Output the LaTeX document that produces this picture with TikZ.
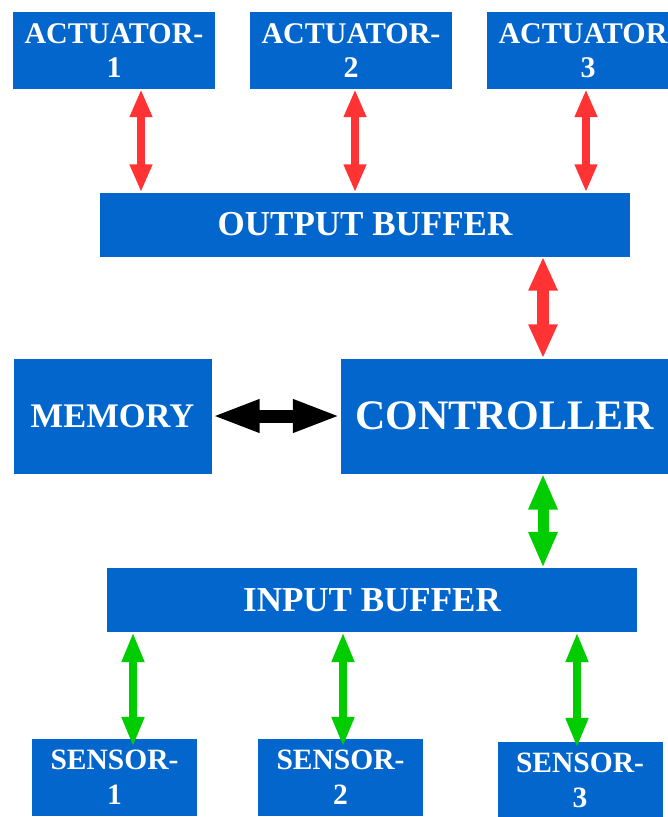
\documentclass[tikz,border=0pt]{standalone}
\usepackage{fontspec}
\setmainfont{Liberation Serif}
\usetikzlibrary{arrows.meta}
\definecolor{boxblue}{RGB}{2,102,204}
\definecolor{arrred}{RGB}{255,51,51}
\definecolor{arrgreen}{RGB}{0,204,0}
\tikzset{
  blk/.style={fill=boxblue, draw=none, inner sep=0pt, text=white, align=center},
  actfont/.style={font=\fontsize{30}{34}\selectfont\bfseries},
  senfont/.style={font=\fontsize{29.5}{35}\selectfont\bfseries},
  bigfont/.style={font=\fontsize{35}{40}\selectfont\bfseries},
  redthin/.style={draw=arrred, line width=8pt,
    {Triangle[length=28pt,width=21pt]}-{Triangle[length=28pt,width=21pt]}},
  redthick/.style={draw=arrred, line width=12pt,
    {Triangle[length=34pt,width=27pt]}-{Triangle[length=34pt,width=27pt]}},
  greenthin/.style={draw=arrgreen, line width=8pt,
    {Triangle[length=30pt,width=21pt]}-{Triangle[length=30pt,width=21pt]}},
  greenthick/.style={draw=arrgreen, line width=11pt,
    {Triangle[length=36pt,width=27pt]}-{Triangle[length=36pt,width=27pt]}},
  blackarr/.style={draw=black, line width=13pt,
    {Triangle[length=48pt,width=30pt]}-{Triangle[length=48pt,width=30pt]}},
}
\begin{document}
\begin{tikzpicture}[x=1pt,y=-1pt]
\useasboundingbox (0,0) rectangle (668,817);
\begin{scope}
\clip (0,0) rectangle (668,817);
% actuators
\node[blk,actfont,minimum width=202pt,minimum height=77pt] (act1) at (114,50.5) {ACTUATOR-\\1};
\node[blk,actfont,minimum width=202pt,minimum height=77pt] (act2) at (351,50.5) {ACTUATOR-\\2};
\node[blk,actfont,minimum width=202pt,minimum height=77pt] (act3) at (588,50.5) {ACTUATOR-\\3};
% output buffer
\node[blk,bigfont,minimum width=530pt,minimum height=64pt] (outbuf) at (365,224.5) {OUTPUT BUFFER};
% memory and controller
\node[blk,font=\fontsize{34.5}{40}\selectfont\bfseries,minimum width=198pt,minimum height=115pt] (mem) at (112.5,416) {MEMORY};
\node[blk,font=\fontsize{42}{48}\selectfont\bfseries,minimum width=327pt,minimum height=115pt] (ctrl) at (504.5,416) {CONTROLLER};
% input buffer
\node[blk,bigfont,minimum width=530pt,minimum height=64pt] (inbuf) at (372,600) {INPUT BUFFER};
% sensors
\node[blk,senfont,minimum width=165pt,minimum height=77pt] (sen1) at (114.5,777.5) {SENSOR-\\1};
\node[blk,senfont,minimum width=165pt,minimum height=77pt] (sen2) at (340.5,777.5) {SENSOR-\\2};
\node[blk,senfont,minimum width=165pt,minimum height=77pt] (sen3) at (580,780.5) {SENSOR-\\3};
% connectors
\draw[redthin] ([xshift=27pt]act1.south) -- ([xshift=27pt]act1.south |- outbuf.north);
\draw[redthin] ([xshift=4pt]act2.south) -- ([xshift=4pt]act2.south |- outbuf.north);
\draw[redthin] ([xshift=-2pt]act3.south) -- ([xshift=-2pt]act3.south |- outbuf.north);
\draw[redthick] ([xshift=38.5pt]ctrl.north |- outbuf.south) -- ([xshift=38.5pt]ctrl.north);
\draw[blackarr] (mem.east) -- (ctrl.west);
\draw[greenthick] ([xshift=38.5pt]ctrl.south) -- ([xshift=38.5pt]ctrl.south |- inbuf.north);
\draw[greenthin] ([xshift=18.5pt]sen1.north |- inbuf.south) -- ([xshift=18.5pt,yshift=-8pt]sen1.north);
\draw[greenthin] ([xshift=2.5pt]sen2.north |- inbuf.south) -- ([xshift=2.5pt,yshift=-8pt]sen2.north);
\draw[greenthin] ([xshift=-3pt]sen3.north |- inbuf.south) -- ([xshift=-3pt,yshift=-6pt]sen3.north);
\end{scope}
\end{tikzpicture}
\end{document}
